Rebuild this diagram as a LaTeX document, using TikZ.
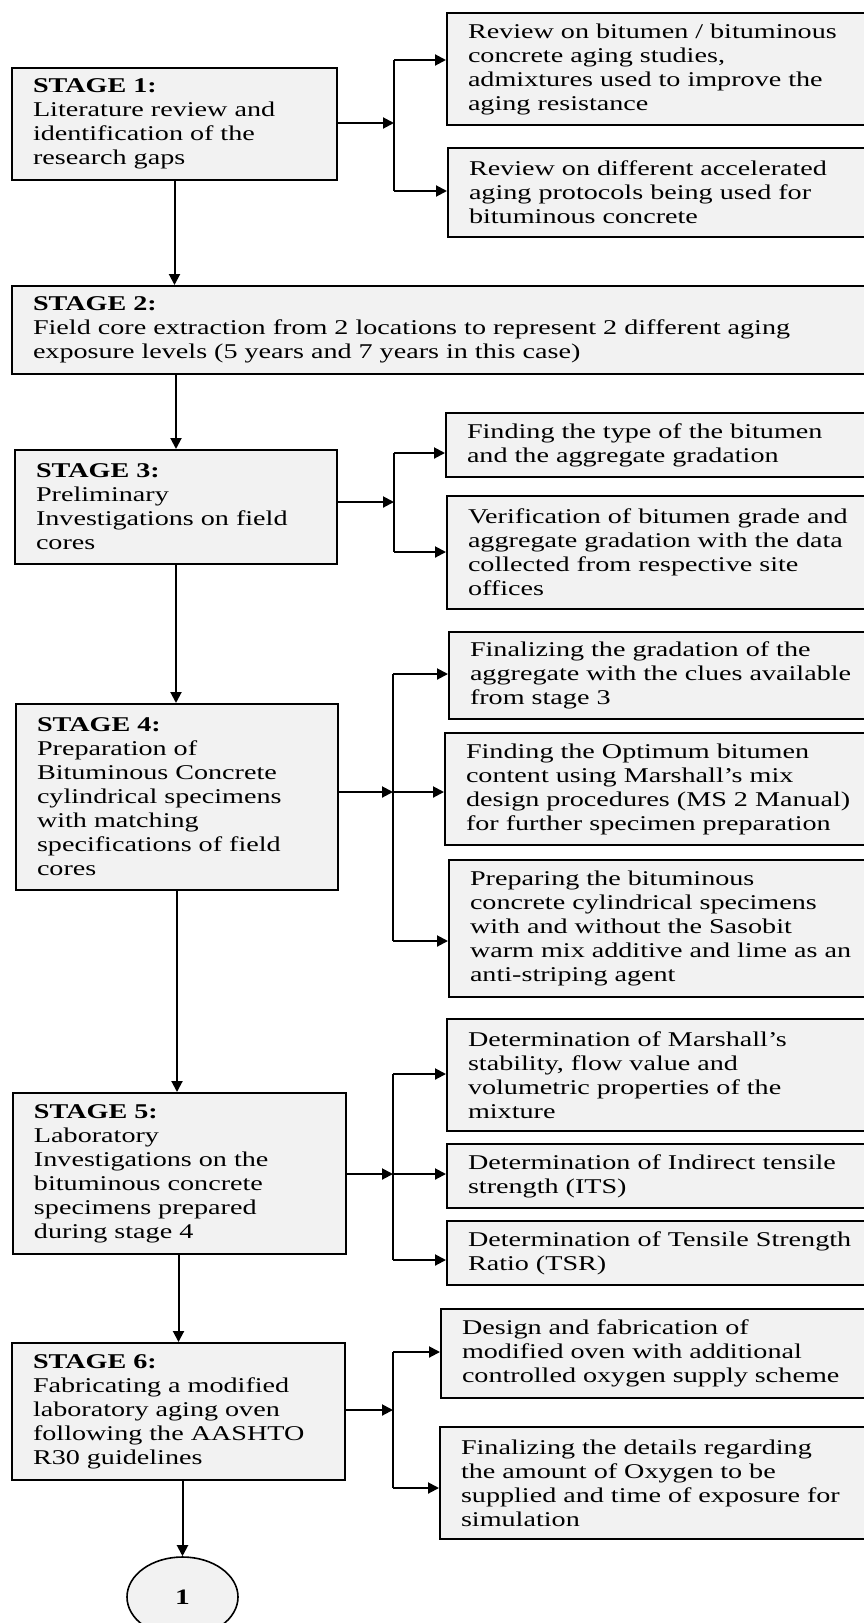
\documentclass[tikz,border=0pt]{standalone}
\usepackage{fontspec}
\setmainfont{Liberation Serif}[FakeStretch=1.34]
\usetikzlibrary{arrows.meta,shapes.geometric}
\tikzset{
  box/.style={draw, line width=2pt, fill=black!5, anchor=north west,
    inner xsep=21pt, inner ysep=0pt, align=left,
    font=\fontsize{21}{24}\selectfont},
  arr/.style={line width=2pt, -{Triangle[length=11pt,width=11pt]}},
  ln/.style={line width=2pt},
  rbox/.style={box, text width=412pt},
}
\begin{document}
\begin{tikzpicture}[x=1pt,y=-1pt]
\useasboundingbox (0,0) rectangle (864,1623);
\clip (0,0) rectangle (864,1623);
\fill[white] (0,0) rectangle (864,1623);

% ---------- stage boxes ----------
\node[box, text width=283pt, minimum height=112pt] (s1) at (11,67)
  {\textbf{STAGE 1:}\\Literature review and\\identification of the\\research gaps};
\node[box, text width=847pt, minimum height=88pt] (s2) at (11,285)
  {\textbf{STAGE 2:}\\Field core extraction from 2 locations to represent 2 different aging\\exposure levels (5 years and 7 years in this case)};
\node[box, text width=280pt, minimum height=114pt] (s3) at (14,449)
  {\textbf{STAGE 3:}\\Preliminary\\Investigations on field\\cores};
\node[box, text width=280pt, minimum height=186pt] (s4) at (15,703)
  {\textbf{STAGE 4:}\\Preparation of\\Bituminous Concrete\\cylindrical specimens\\with matching\\specifications of field\\cores};
\node[box, text width=291pt, minimum height=161pt] (s5) at (12,1092)
  {\textbf{STAGE 5:}\\Laboratory\\Investigations on the\\bituminous concrete\\specimens prepared\\during stage 4};
\node[box, text width=291pt, minimum height=137pt] (s6) at (11,1342)
  {\textbf{STAGE 6:}\\Fabricating a modified\\laboratory aging oven\\following the AASHTO\\R30 guidelines};
\node[ellipse, draw, line width=1.6pt, fill=black!5, minimum width=111pt,
  minimum height=80pt, inner sep=0pt, font=\bfseries\fontsize{22}{24}\selectfont]
  (c1) at (182.5,1597) {1};

% ---------- right boxes ----------
\node[rbox, minimum height=112pt] (r1) at (446,12)
  {Review on bitumen / bituminous\\concrete aging studies,\\admixtures used to improve the\\aging resistance};
\node[rbox, minimum height=89pt] (r2) at (447,147)
  {Review on different accelerated\\aging protocols being used for\\bituminous concrete};
\node[rbox, minimum height=64pt] (r3) at (445,412)
  {Finding the type of the bitumen\\and the aggregate gradation};
\node[rbox, minimum height=113pt] (r4) at (446,495)
  {Verification of bitumen grade and\\aggregate gradation with the data\\collected from respective site\\offices};
\node[rbox, minimum height=87pt] (r5) at (448,631)
  {Finalizing the gradation of the\\aggregate with the clues available\\from stage 3};
\node[rbox, minimum height=112pt] (r6) at (444,732)
  {Finding the Optimum bitumen\\content using Marshall’s mix\\design procedures (MS 2 Manual)\\for further specimen preparation};
\node[rbox, minimum height=137pt] (r7) at (448,859)
  {Preparing the bituminous\\concrete cylindrical specimens\\with and without the Sasobit\\warm mix additive and lime as an\\anti-striping agent};
\node[rbox, minimum height=112pt] (r8) at (446,1018)
  {Determination of Marshall’s\\stability, flow value and\\volumetric properties of the\\mixture};
\node[rbox, minimum height=64pt] (r9) at (446,1143)
  {Determination of Indirect tensile\\strength (ITS)};
\node[rbox, minimum height=64pt] (r10) at (446,1220)
  {Determination of Tensile Strength\\Ratio (TSR)};
\node[rbox, minimum height=89pt] (r11) at (440,1308)
  {Design and fabrication of\\modified oven with additional\\controlled oxygen supply scheme};
\node[rbox, minimum height=112pt] (r12) at (439,1426)
  {Finalizing the details regarding\\the amount of Oxygen to be\\supplied and time of exposure for\\simulation};

% ---------- vertical flow ----------
\draw[arr] (s1.south) -- (s1.south |- s2.north);
\draw[arr] (s3.north |- s2.south) -- (s3.north);
\draw[arr] (s3.south) -- (s3.south |- s4.north);
\draw[arr] (s4.south) -- (s4.south |- s5.north);
\draw[arr] (s6.north |- s5.south) -- (s6.north);
\draw[arr] (c1.north |- s6.south) -- (c1.north);

% ---------- bus coordinates ----------
\coordinate (b1) at (394,123);  \coordinate (t1a) at (394,60);   \coordinate (t1b) at (394,191);
\coordinate (b3) at (394,502);  \coordinate (t3a) at (394,453);  \coordinate (t3b) at (394,552);
\coordinate (b4) at (393,792);  \coordinate (t4a) at (393,674);  \coordinate (t4b) at (393,941);
\coordinate (b5) at (393,1174); \coordinate (t5a) at (393,1074); \coordinate (t5b) at (393,1260);
\coordinate (b6) at (393,1410); \coordinate (t6a) at (393,1352); \coordinate (t6b) at (393,1488);

% stage 1 branches
\draw[arr] (s1.east |- b1) -- (b1);
\draw[ln] (t1a) -- (t1b);
\draw[arr] (t1a) -- (t1a -| r1.west);
\draw[arr] (t1b) -- (t1b -| r2.west);
% stage 3 branches
\draw[arr] (s3.east |- b3) -- (b3);
\draw[ln] (t3a) -- (t3b);
\draw[arr] (t3a) -- (t3a -| r3.west);
\draw[arr] (t3b) -- (t3b -| r4.west);
% stage 4 branches
\draw[arr] (s4.east |- b4) -- (b4);
\draw[ln] (t4a) -- (t4b);
\draw[arr] (t4a) -- (t4a -| r5.west);
\draw[arr] (b4) -- (b4 -| r6.west);
\draw[arr] (t4b) -- (t4b -| r7.west);
% stage 5 branches
\draw[arr] (s5.east |- b5) -- (b5);
\draw[ln] (t5a) -- (t5b);
\draw[arr] (t5a) -- (t5a -| r8.west);
\draw[arr] (b5) -- (b5 -| r9.west);
\draw[arr] (t5b) -- (t5b -| r10.west);
% stage 6 branches
\draw[arr] (s6.east |- b6) -- (b6);
\draw[ln] (t6a) -- (t6b);
\draw[arr] (t6a) -- (t6a -| r11.west);
\draw[arr] (t6b) -- (t6b -| r12.west);
\end{tikzpicture}
\end{document}
